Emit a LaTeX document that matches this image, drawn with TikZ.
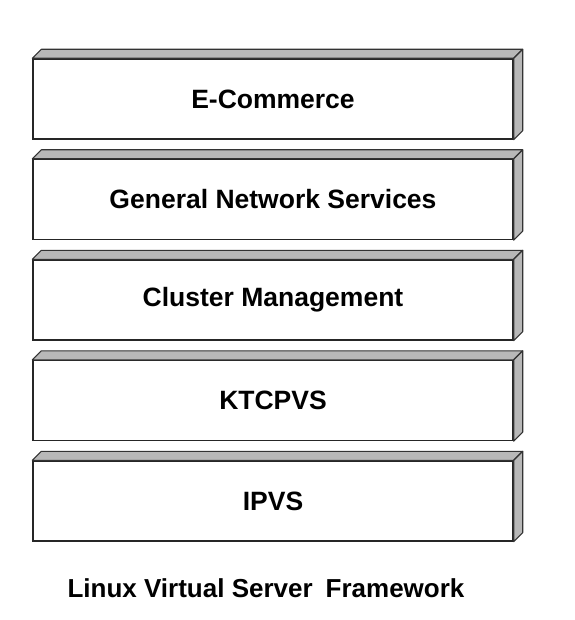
\documentclass[tikz,border=0pt]{standalone}
\usepackage{fontspec}
\setmainfont{Liberation Sans}

\tikzset{
  layer/.style={draw=black!85, line width=1.4pt, fill=white,
    minimum width=480pt, minimum height=80pt, inner sep=0pt,
    font=\fontsize{26.5}{30}\selectfont\bfseries},
  face/.style={draw=black!80, line width=1.1pt, fill=black!28, line join=round},
}

\begin{document}
\begin{tikzpicture}[x=1pt, y=-1pt]

    \useasboundingbox (0,0) rectangle (574,620);

    % Layers
    \foreach \name/\txt [count=\i from 0] in {
        ecom/E-Commerce,
        gns/General Network Services,
        clm/Cluster Management,
        ktcpvs/KTCPVS,
        ipvs/IPVS}
    {
        \node[layer] (\name) at (273, 99+100.5*\i) {\txt};
        % top face
        \draw[face] (\name.north west) -- ++(9,-9)
            -- ([shift={(9,-9)}]\name.north east) -- (\name.north east) -- cycle;
        % right face
        \draw[face] (\name.north east) -- ++(9,-9)
            -- ([shift={(9,-9)}]\name.south east) -- (\name.south east) -- cycle;
    }

    % Caption
    \node[font=\fontsize{26}{30}\selectfont\bfseries] (caption) at (266,588)
        {Linux Virtual Server\enspace Framework};

\end{tikzpicture}
\end{document}
